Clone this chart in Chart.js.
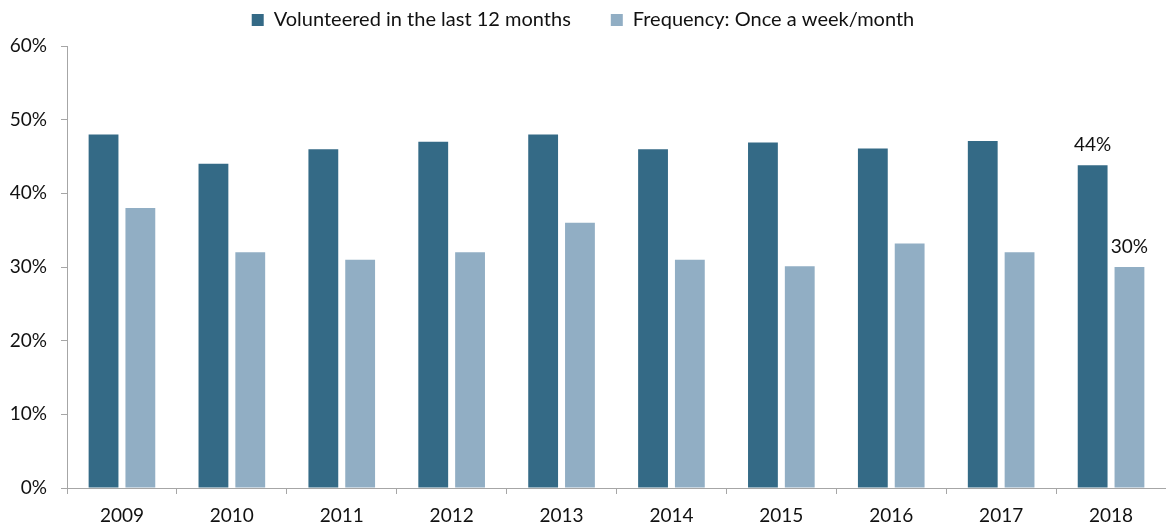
<!DOCTYPE html>
<html>
<head>
<meta charset="utf-8">
<script src="https://cdn.jsdelivr.net/npm/chart.js@4.4.1/dist/chart.umd.min.js"></script>
<style>
  html, body { margin: 0; padding: 0; background: #fff; }
  #wrap { width: 1166px; height: 524px; }
</style>
</head>
<body>
<div id="wrap"><canvas id="bars"></canvas></div>
<script>
const years = ['2009', '2010', '2011', '2012', '2013', '2014', '2015', '2016', '2017', '2018'];
const volunteered = [48, 44, 46, 47, 48, 46, 46.9, 46.1, 47.1, 43.8];
const weeklyMonthly = [38, 32, 31, 32, 36, 31, 30.1, 33.2, 32, 30];
const yTicks = [0, 10, 20, 30, 40, 50, 60];

const FONT = 'Lato, "Open Sans", sans-serif';

// value labels only on the latest year
const lastYearLabels = {
  id: 'lastYearLabels',
  afterDatasetsDraw(chart) {
    const { ctx } = chart;
    const i = years.length - 1;
    ctx.save();
    ctx.font = '19px ' + FONT;
    ctx.fillStyle = '#111';
    ctx.textAlign = 'center';
    ctx.textBaseline = 'bottom';
    chart.data.datasets.forEach((ds, d) => {
      const bar = chart.getDatasetMeta(d).data[i];
      ctx.fillText(Math.round(ds.data[i]) + '%', bar.x, bar.y - 11);
    });
    ctx.restore();
  }
};

// a bit more room between the legend and the plot
const legendGap = {
  id: 'legendGap',
  afterInit(chart) {
    const fit = chart.legend.fit;
    chart.legend.fit = function () {
      fit.call(this);
      this.height += 6;
    };
  }
};

const ctx = document.getElementById('bars').getContext('2d');
const myChart = new Chart(ctx, {
    type: 'bar',
    data: {
        labels: years,
        datasets: [{
            label: 'Volunteered in the last 12 months',
            data: volunteered,
            backgroundColor: '#346a86'
        }, {
            label: 'Frequency: Once a week/month',
            data: weeklyMonthly,
            backgroundColor: '#91aec4'
        }]
    },
    options: {
        responsive: true,
        maintainAspectRatio: false,
        animation: false,
        categoryPercentage: 0.67,
        barPercentage: 0.81,
        layout: { padding: { top: 0, right: 0, left: 0, bottom: 0 } },
        plugins: {
            tooltip: { enabled: false },
            legend: {
                position: 'top',
                labels: {
                    font: { family: FONT, size: 20 },
                    color: '#111',
                    boxWidth: 12,
                    boxHeight: 12,
                    padding: 10,
                    generateLabels(chart) {
                        const items = Chart.defaults.plugins.legend.labels.generateLabels(chart);
                        items[0].text += '\u2003\u2003';
                        return items;
                    }
                }
            }
        },
        scales: {
            x: {
                grid: { display: true, drawOnChartArea: false, offset: true, tickLength: 6, color: '#a6a6a6' },
                border: { color: '#a6a6a6' },
                ticks: { font: { family: FONT, size: 19 }, color: '#111', padding: 10 },
                afterFit(scale) { scale.height = 36; }
            },
            y: {
                min: 0,
                max: 60,
                afterBuildTicks(scale) { scale.ticks = yTicks.map(v => ({ value: v })); },
                grid: { display: true, drawOnChartArea: false, tickLength: 6, color: '#a6a6a6' },
                border: { color: '#a6a6a6' },
                ticks: {
                    font: { family: FONT, size: 19 },
                    color: '#111',
                    padding: 14,
                    callback: v => v + '%'
                },
                afterFit(scale) { scale.width = 67; }
            }
        }
    },
    plugins: [lastYearLabels, legendGap]
});
</script>
</body>
</html>
